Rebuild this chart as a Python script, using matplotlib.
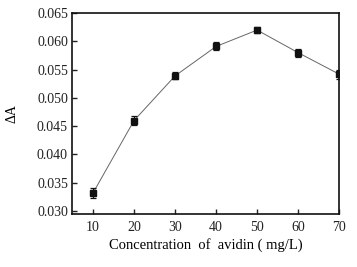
"""Delta A versus avidin concentration."""
import matplotlib
matplotlib.use('Agg')
import matplotlib.pyplot as plt

conc = [10, 20, 30, 40, 50, 60, 70]
delta_a = [0.0332, 0.0460, 0.0539, 0.0591, 0.0620, 0.0580, 0.0542]
err = [0.0009, 0.0008, 0.0006, 0.0007, 0.0006, 0.0007, 0.0008]

x_ticks = [10, 20, 30, 40, 50, 60, 70]
y_ticks = [0.030, 0.035, 0.040, 0.045, 0.050, 0.055, 0.060, 0.065]

plt.rcParams['font.family'] = ['Liberation Serif', 'DejaVu Serif']
plt.rcParams['font.size'] = 10

fig = plt.figure(figsize=(3.57, 2.67), dpi=100)
ax = fig.add_axes([0.202, 0.199, 0.748, 0.752])

ax.plot(conc, delta_a, color='#666666', lw=0.7, zorder=1)
ax.errorbar(conc, delta_a, yerr=err, fmt='s', color='#111111', ms=5,
            elinewidth=0.9, capsize=2.5, capthick=0.9, zorder=2)

ax.set_xlim(4.9, 70)
ax.set_ylim(0.0295, 0.065)
ax.set_xticks(x_ticks)
ax.set_yticks(y_ticks)
ax.set_yticklabels(['%.3f' % v for v in y_ticks])
ax.tick_params(direction='in', length=3.5, width=1, colors='#222222', pad=3)
ax.tick_params(axis='x', pad=5)

for s in ax.spines.values():
    s.set_linewidth(1.2)
    s.set_color('#111111')

ax.set_xlabel('Concentration  of  avidin ( mg/L)', fontsize=10.5, labelpad=3)
ax.set_ylabel('ΔA', labelpad=13)

fig.savefig('out.png', dpi=100)
